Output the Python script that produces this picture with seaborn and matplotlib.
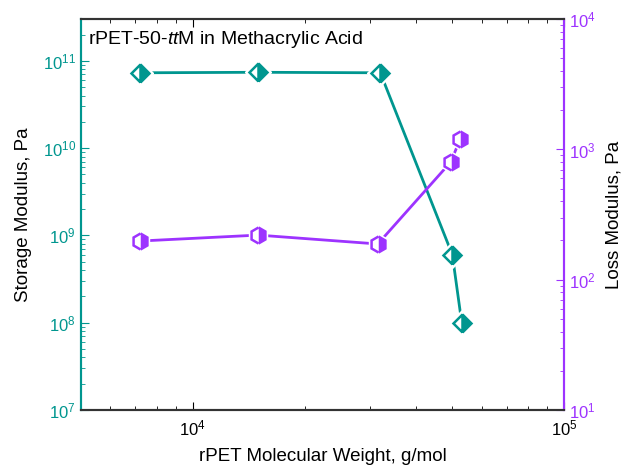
import numpy as np
import pandas as pd
import seaborn as sns
import matplotlib
matplotlib.use('Agg')
import matplotlib.pyplot as plt
from matplotlib.ticker import LogLocator, NullFormatter

# data
mol_weight = [7200, 15000, 32000, 50000, 53000]
storage_mod = [7.3e10, 7.4e10, 7.3e10, 6.0e8, 1.0e8]
loss_mw = [7200, 15000, 31500, 49500, 52500]
loss_mod = [198, 220, 188, 800, 1200]

TEAL = "#00968F"
PURPLE = "#9D33FF"

sns.set_style("ticks")
plt.rcParams['font.family'] = ['Liberation Sans', 'DejaVu Sans']
plt.rcParams['mathtext.fontset'] = 'custom'
plt.rcParams['mathtext.rm'] = 'Liberation Sans'
plt.rcParams['mathtext.it'] = 'Liberation Sans:italic'
plt.rcParams['text.color'] = 'black'
plt.rcParams['axes.labelcolor'] = 'black'

df_s = pd.DataFrame({"mw": mol_weight, "mod": storage_mod})
df_l = pd.DataFrame({"mw": loss_mw, "mod": loss_mod})

fig = plt.figure(figsize=(6.22, 4.69), dpi=100)
ax = fig.add_axes([0.130, 0.126, 0.777, 0.833])
ax2 = ax.twinx()

sns.lineplot(x="mw", y="mod", data=df_s, ax=ax, color=TEAL, lw=2, zorder=2)
ax.plot(df_s["mw"], df_s["mod"], ls="none", marker="D", ms=13, color="white", zorder=3)
ax.plot(df_s["mw"], df_s["mod"], ls="none", marker="D", ms=9.5, mew=1.8,
        color=TEAL, mec=TEAL, fillstyle="right", markerfacecoloralt="white", zorder=4)

sns.lineplot(x="mw", y="mod", data=df_l, ax=ax2, color=PURPLE, lw=2, zorder=2)
ax2.plot(df_l["mw"], df_l["mod"], ls="none", marker="h", ms=15, color="white", zorder=3)
ax2.plot(df_l["mw"], df_l["mod"], ls="none", marker="h", ms=11.5, mew=1.8,
         color=PURPLE, mec=PURPLE, fillstyle="right", markerfacecoloralt="white", zorder=4)

ax.set_xscale("log")
ax.set_yscale("log")
ax2.set_yscale("log")
ax.set_xlim(5000, 1e5)
ax.set_ylim(1e7, 3e11)
ax2.set_ylim(10, 1e4)

ax.set_xlabel("rPET Molecular Weight, g/mol", fontsize=13.5, labelpad=7)
ax.set_ylabel("Storage Modulus, Pa", fontsize=13.5, labelpad=8)
ax2.set_ylabel("Loss Modulus, Pa", fontsize=13.5, labelpad=7)

for a in (ax, ax2):
    a.yaxis.set_major_locator(LogLocator(base=10, numticks=10))
    a.yaxis.set_minor_locator(LogLocator(base=10, subs=np.arange(2, 10), numticks=10))
    a.yaxis.set_minor_formatter(NullFormatter())

ax.tick_params(axis="x", which="both", direction="in", top=True, labelsize=12, colors="black", pad=6)
ax.tick_params(axis="x", which="major", length=6)
ax.tick_params(axis="x", which="minor", length=3)
ax.tick_params(axis="y", which="both", direction="in", colors=TEAL, labelsize=12)
ax.tick_params(axis="y", which="major", length=6)
ax.tick_params(axis="y", which="minor", length=3)
ax2.tick_params(axis="y", which="both", direction="in", colors=PURPLE, labelsize=12)
ax2.tick_params(axis="y", which="major", length=6)
ax2.tick_params(axis="y", which="minor", length=3)

for a in (ax, ax2):
    a.spines["left"].set_color(TEAL)
    a.spines["right"].set_color(PURPLE)
    a.spines["top"].set_color("#333333")
    a.spines["bottom"].set_color("#333333")
    for s in a.spines.values():
        s.set_linewidth(1.5)
    a.spines["top"].set_visible(True)
    a.spines["right"].set_visible(True)

ax.text(0.015, 0.948, r"rPET-50-$\it{tt}$M in Methacrylic Acid", transform=ax.transAxes,
        fontsize=14, va="center", ha="left")

fig.savefig("out.png", dpi=100)
